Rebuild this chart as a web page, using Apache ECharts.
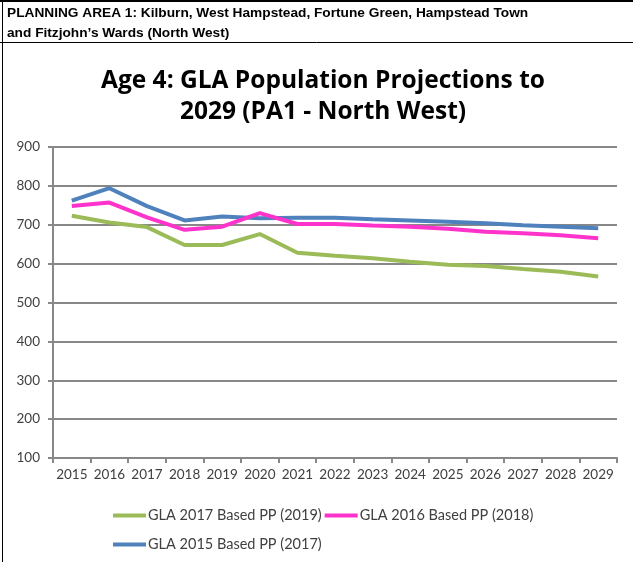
<!DOCTYPE html>
<html>
<head>
<meta charset="utf-8">
<script src="https://cdn.jsdelivr.net/npm/echarts@6/dist/echarts.min.js"></script>
<style>
html,body{margin:0;padding:0;background:#fff;}
#c{width:633px;height:562px;}
</style>
</head>
<body>
<div id="c"></div>
<script>
const categories = ['2015','2016','2017','2018','2019','2020','2021','2022','2023','2024','2025','2026','2027','2028','2029'];
const seriesNames = ['GLA 2017 Based PP (2019)','GLA 2016 Based PP (2018)','GLA 2015 Based PP (2017)'];
const gla2017 = [723,706,694,648,648,676,628,620,614,605,597,594,586,579,567];
const gla2016 = [748,757,719,687,695,730,702,702,698,695,690,682,678,673,665];
const gla2015 = [762,794,748,711,721,717,718,718,714,711,708,704,699,695,691];
const yTicks = {min:100, max:900, interval:100};
const colors = ['#9BBB59','#FF33CC','#4F81BD'];

const chart = echarts.init(document.getElementById('c'), null, {renderer:'canvas'});
const labelFont = 'Lato, "Open Sans", sans-serif';
chart.setOption({
  animation:false,
  backgroundColor:'#fff',
  title:{
    text:'Age 4: GLA Population Projections to\n2029 (PA1 - North West)',
    left:318, textAlign:'center', top:61,
    textStyle:{fontFamily:'"Open Sans", Lato, sans-serif', fontWeight:'bold', fontSize:24.5, lineHeight:31, color:'#000'}
  },
  graphic:[
    {type:'text', left:7, top:3, style:{text:'PLANNING AREA 1: Kilburn, West Hampstead, Fortune Green, Hampstead Town\nand Fitzjohn\u2019s Wards (North West)', font:'bold 13.7px "Liberation Sans", Arial, sans-serif', lineHeight:20, fill:'#000'}},
    {type:'line', shape:{x1:0,y1:1,x2:633,y2:1}, style:{stroke:'#000', lineWidth:2}},
    {type:'line', shape:{x1:0,y1:42.5,x2:633,y2:42.5}, style:{stroke:'#000', lineWidth:1}},
    {type:'line', shape:{x1:2.5,y1:0,x2:2.5,y2:562}, style:{stroke:'#000', lineWidth:1}}
  ],
  grid:{left:53, right:16, top:147, bottom:104, containLabel:false},
  legend:[
    {data:[seriesNames[0], seriesNames[1]], left:108, top:503, itemWidth:33, itemHeight:4, itemGap:3, icon:'rect',
     textStyle:{fontFamily:labelFont, fontSize:14.5, color:'#404040', padding:[0,0,0,-3]}},
    {data:[seriesNames[2]], left:108, top:532, itemWidth:33, itemHeight:4, icon:'rect',
     textStyle:{fontFamily:labelFont, fontSize:14.5, color:'#404040', padding:[0,0,0,-3]}}
  ],
  xAxis:{
    type:'category', data:categories, boundaryGap:true,
    axisLine:{lineStyle:{color:'#888', width:2}},
    axisTick:{show:true, length:5, lineStyle:{color:'#888', width:2}, interval:0},
    axisLabel:{interval:0, margin:10, fontFamily:labelFont, fontSize:13.5, color:'#404040'}
  },
  yAxis:{
    type:'value', min:yTicks.min, max:yTicks.max, interval:yTicks.interval,
    axisLine:{show:true, lineStyle:{color:'#888', width:2}},
    axisTick:{show:true, length:5, lineStyle:{color:'#888', width:2}},
    splitLine:{lineStyle:{color:'#888', width:2}},
    axisLabel:{margin:13, fontFamily:labelFont, fontSize:13.5, color:'#404040'}
  },
  series:[
    {name:seriesNames[0], type:'line', data:gla2017, color:colors[0], symbol:'none', lineStyle:{width:4, color:colors[0]}, z:3},
    {name:seriesNames[1], type:'line', data:gla2016, color:colors[1], symbol:'none', lineStyle:{width:4, color:colors[1]}, z:4},
    {name:seriesNames[2], type:'line', data:gla2015, color:colors[2], symbol:'none', lineStyle:{width:4, color:colors[2]}, z:2}
  ]
});
</script>
</body>
</html>
